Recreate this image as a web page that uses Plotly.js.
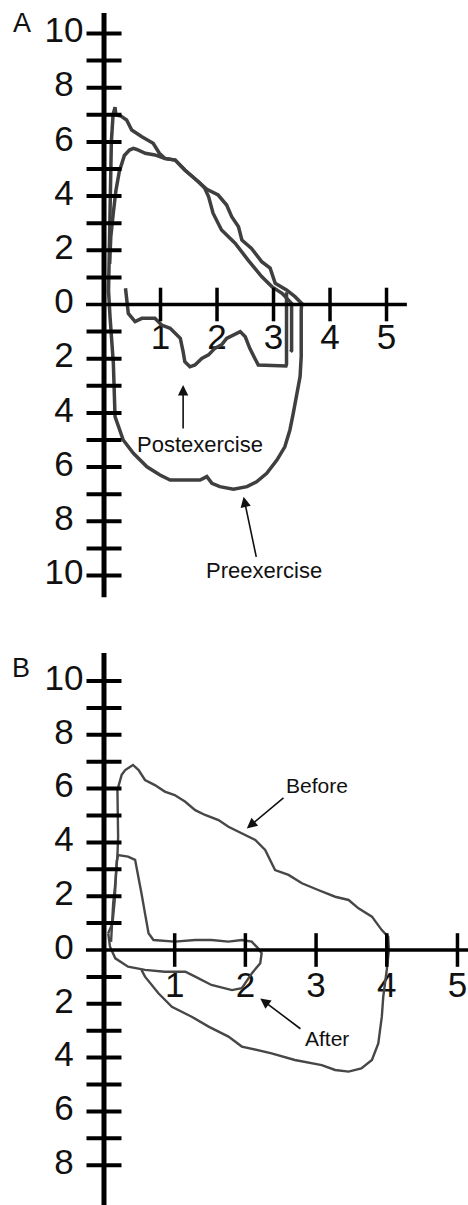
<!DOCTYPE html>
<html>
<head>
<meta charset="utf-8">
<script src="https://cdn.plot.ly/plotly-3.0.1.min.js"></script>
<style>html,body{margin:0;padding:0;background:#fff;}#chart{width:468px;height:1205px;}</style>
</head>
<body>
<div id="chart"></div>
<script>
// ---------- Panel A : Preexercise loop (volume L, flow L/s) ----------
var preA_x = [0.08, 0.09, 0.11, 0.13, 0.16, 0.195, 0.21, 0.30, 0.40, 0.49, 0.67, 0.87, 0.98, 1.08, 1.26, 1.43, 1.67, 1.82, 2.02, 2.17, 2.26, 2.38, 2.44, 2.61, 2.79, 2.94, 3.03, 3.23, 3.38, 3.50, 3.49, 3.49, 3.47, 3.41, 3.35, 3.29, 3.20, 3.06, 2.88, 2.70, 2.53, 2.29, 2.05, 1.91, 1.82, 1.70, 1.17, 0.99, 0.76, 0.52, 0.34, 0.195, 0.165, 0.106, 0.08];
var preA_y = [0.5, 2.0, 4.0, 6.0, 7.0, 7.28, 7.0, 6.95, 6.81, 6.44, 6.19, 5.95, 5.58, 5.39, 5.33, 4.96, 4.53, 4.25, 4.04, 3.67, 3.24, 2.87, 2.38, 2.07, 1.58, 1.34, 0.78, 0.54, 0.29, 0.04, -0.2, -1.93, -2.66, -3.40, -4.01, -4.63, -5.25, -5.74, -6.23, -6.54, -6.72, -6.82, -6.72, -6.60, -6.35, -6.48, -6.48, -6.29, -5.99, -5.49, -5.0, -4.14, -2.16, -0.45, 0.5];
// ---------- Panel A : Postexercise expiratory ----------
var postA_x = [0.10, 0.12, 0.16, 0.21, 0.27, 0.36, 0.45, 0.52, 0.58, 0.73, 0.90, 1.08, 1.26, 1.43, 1.67, 1.78, 1.85, 1.93, 2.08, 2.32, 2.55, 2.79, 2.97, 3.15, 3.32, 3.32, 3.30];
var postA_y = [1.5, 2.5, 3.3, 4.2, 4.9, 5.5, 5.7, 5.76, 5.72, 5.58, 5.52, 5.39, 5.33, 4.96, 4.53, 4.3, 3.98, 3.37, 2.75, 2.26, 1.64, 1.03, 0.66, 0.41, 0.04, -1.7, -1.75];
// ---------- Panel A : Postexercise inspiratory ----------
var postInA_x = [0.38, 0.40, 0.43, 0.55, 0.67, 0.78, 0.90, 1.02, 1.17, 1.26, 1.35, 1.40, 1.43, 1.52, 1.61, 1.73, 1.85, 1.96, 2.08, 2.17, 2.29, 2.41, 2.50, 2.58, 2.67, 2.73, 3.22, 3.23, 3.23];
var postInA_y = [0.6, 0.10, -0.33, -0.63, -0.51, -0.51, -0.51, -0.76, -0.88, -1.06, -1.25, -1.74, -2.11, -2.30, -2.23, -1.99, -1.86, -1.62, -1.49, -1.25, -1.12, -1.0, -1.19, -1.62, -1.99, -2.23, -2.27, -2.2, 0.45];

// ---------- Panel B : Before loop ----------
var beforeB_x = [0.10, 0.13, 0.155, 0.19, 0.20, 0.19, 0.25, 0.30, 0.41, 0.49, 0.58, 0.72, 0.86, 1.00, 1.15, 1.29, 1.43, 1.62, 1.76, 1.95, 2.14, 2.28, 2.35, 2.42, 2.61, 2.80, 3.03, 3.27, 3.46, 3.60, 3.79, 3.93, 4.02, 4.03, 4.00, 3.95, 3.93, 3.88, 3.79, 3.64, 3.46, 3.27, 3.08, 2.70, 2.37, 1.95, 1.76, 1.48, 1.24, 0.96, 0.77, 0.58, 0.53];
var beforeB_y = [0.3, 1.73, 2.35, 3.5, 4.2, 5.95, 6.51, 6.69, 6.88, 6.69, 6.32, 6.13, 5.89, 5.76, 5.51, 5.20, 5.02, 4.83, 4.58, 4.34, 4.09, 3.72, 3.35, 2.97, 2.79, 2.48, 2.23, 1.98, 1.86, 1.55, 1.24, 0.74, 0.49, 0.0, -0.74, -1.74, -2.48, -3.47, -4.09, -4.40, -4.52, -4.46, -4.28, -4.09, -3.84, -3.59, -3.22, -2.85, -2.48, -2.11, -1.61, -0.99, -0.74];
// ---------- Panel B : After loop ----------
var afterB_x = [0.06, 0.12, 0.15, 0.17, 0.18, 0.20, 0.34, 0.44, 0.49, 0.53, 0.58, 0.63, 0.70, 1.00, 1.29, 1.52, 1.76, 1.95, 2.09, 2.18, 2.23, 2.21, 2.09, 1.95, 1.81, 1.52, 1.29, 1.15, 0.86, 0.58, 0.34, 0.16, 0.085, 0.06];
var afterB_y = [0.62, 1.0, 1.8, 2.6, 3.3, 3.53, 3.47, 3.35, 2.73, 2.11, 1.36, 0.62, 0.37, 0.31, 0.37, 0.37, 0.31, 0.37, 0.31, 0.06, -0.12, -0.49, -0.87, -1.42, -1.49, -1.30, -0.99, -0.81, -0.81, -0.74, -0.62, -0.31, 0.12, 0.62];

// ---------- Tick values / labels ----------
var yTickValsA = [10, 8, 6, 4, 2, 0, -2, -4, -6, -8, -10];
var yTickTextA = ['10', '8', '6', '4', '2', '0', '2', '4', '6', '8', '10'];
var yMinorA = [10, 9, 8, 7, 6, 5, 4, 3, 2, 1, -1, -2, -3, -4, -5, -6, -7, -8, -9, -10];
var yTickValsB = [10, 8, 6, 4, 2, 0, -2, -4, -6, -8];
var yTickTextB = ['10', '8', '6', '4', '2', '0', '2', '4', '6', '8'];
var yMinorB = [10, 9, 8, 7, 6, 5, 4, 3, 2, 1, -1, -2, -3, -4, -5, -6, -7, -8];
var xTickVals = [1, 2, 3, 4, 5];
var xTickText = ['1', '2', '3', '4', '5'];

var FONT = 'Liberation Sans, Arial, sans-serif';
var curveA = '#3f3f3f', curveB = '#474747';

function rep(v, n) { var a = []; for (var i = 0; i < n; i++) a.push(v); return a; }

function panelTraces(xa, ya, o) {
  var t = [];
  // tick labels
  t.push({type: 'scatter', mode: 'text', x: rep(o.yLabX, o.yVals.length), y: o.yVals, text: o.yText,
    textposition: 'middle center', textfont: {family: FONT, size: 35, color: '#111'},
    xaxis: xa, yaxis: ya, hoverinfo: 'skip', showlegend: false, cliponaxis: false});
  t.push({type: 'scatter', mode: 'text', x: xTickVals, y: rep(o.xLabY, xTickVals.length), text: xTickText,
    textposition: 'middle center', textfont: {family: FONT, size: 35, color: '#111'},
    xaxis: xa, yaxis: ya, hoverinfo: 'skip', showlegend: false, cliponaxis: false});
  // curves
  o.curves.forEach(function (c) {
    t.push({type: 'scatter', mode: 'lines', x: c[0], y: c[1], line: {color: o.color, width: o.lw, shape: 'linear'},
      xaxis: xa, yaxis: ya, hoverinfo: 'skip', showlegend: false, cliponaxis: false});
  });
  // axis lines
  t.push({type: 'scatter', mode: 'lines', x: o.xLine, y: [0, 0], line: {color: '#000', width: 3.5},
    xaxis: xa, yaxis: ya, hoverinfo: 'skip', showlegend: false, cliponaxis: false});
  t.push({type: 'scatter', mode: 'lines', x: [0, 0], y: o.yLine, line: {color: '#000', width: 5},
    xaxis: xa, yaxis: ya, hoverinfo: 'skip', showlegend: false, cliponaxis: false});
  // tick marks
  t.push({type: 'scatter', mode: 'markers', x: rep(0, o.yMinor.length), y: o.yMinor,
    marker: {symbol: 'line-ew', size: 25, line: {width: 4, color: '#000'}},
    xaxis: xa, yaxis: ya, hoverinfo: 'skip', showlegend: false, cliponaxis: false});
  t.push({type: 'scatter', mode: 'markers', x: xTickVals, y: rep(0, xTickVals.length),
    marker: {symbol: 'line-ns', size: 24, line: {width: 3.5, color: '#000'}},
    xaxis: xa, yaxis: ya, hoverinfo: 'skip', showlegend: false, cliponaxis: false});
  return t;
}

var data = [].concat(
  panelTraces('x', 'y', {
    yLabX: -0.708, xLabY: -1.31, yVals: yTickValsA, yText: yTickTextA, yMinor: yMinorA,
    xLine: [-0.319, 5.36], yLine: [-10.8, 10.76], color: curveA, lw: 3.5,
    curves: [[preA_x, preA_y], [postA_x, postA_y], [postInA_x, postInA_y]]
  }),
  panelTraces('x2', 'y2', {
    yLabX: -0.566, xLabY: -1.42, yVals: yTickValsB, yText: yTickTextB, yMinor: yMinorB,
    xLine: [-0.255, 5.3], yLine: [-9.7, 11.04], color: curveB, lw: 2.4,
    curves: [[beforeB_x, beforeB_y], [afterB_x, afterB_y]]
  })
);

function txt(xr, yr, x, y, s, size) {
  return {xref: xr, yref: yr, x: x, y: y, text: s, showarrow: false, xanchor: 'center', yanchor: 'middle',
    font: {family: FONT, size: size, color: '#111'}};
}
function arrow(xr, yr, x, y, ax, ay) {
  return {xref: xr, yref: yr, axref: xr, ayref: yr, x: x, y: y, ax: ax, ay: ay, text: '', showarrow: true,
    arrowhead: 2, arrowsize: 1.3, arrowwidth: 1.6, arrowcolor: '#111', standoff: 0, startstandoff: 0};
}

var annotations = [
  {xref: 'paper', yref: 'paper', x: 21.7 / 468, y: 1 - 23.3 / 1205, text: 'A', showarrow: false,
    xanchor: 'center', yanchor: 'middle', font: {family: FONT, size: 27, color: '#111'}},
  {xref: 'paper', yref: 'paper', x: 20.8 / 468, y: 1 - 668.3 / 1205, text: 'B', showarrow: false,
    xanchor: 'center', yanchor: 'middle', font: {family: FONT, size: 27, color: '#111'}},
  txt('x', 'y', 1.70, -5.15, 'Postexercise', 22),
  arrow('x', 'y', 1.40, -2.97, 1.40, -4.63),
  txt('x', 'y', 2.83, -9.80, 'Preexercise', 22),
  arrow('x', 'y', 2.47, -7.09, 2.70, -9.37),
  txt('x2', 'y2', 3.02, 6.11, 'Before', 21),
  arrow('x2', 'y2', 2.02, 4.52, 2.56, 5.70),
  txt('x2', 'y2', 3.15, -3.28, 'After', 21),
  arrow('x2', 'y2', 2.21, -1.80, 2.80, -2.97)
];

var hidden = {visible: false, fixedrange: true, showgrid: false, zeroline: false};
var layout = {
  width: 468, height: 1205,
  margin: {l: 0, r: 0, t: 0, b: 0, pad: 0},
  paper_bgcolor: '#fff', plot_bgcolor: '#fff',
  showlegend: false,
  xaxis: Object.assign({domain: [0, 1], range: [-1.841, 6.442], anchor: 'y'}, hidden),
  yaxis: Object.assign({domain: [1 - 610 / 1205, 1], range: [-11.273, 11.236], anchor: 'x'}, hidden),
  xaxis2: Object.assign({domain: [0, 1], range: [-1.471, 5.149], anchor: 'y2'}, hidden),
  yaxis2: Object.assign({domain: [0, 585 / 1205], range: [-9.480, 12.268], anchor: 'x2'}, hidden),
  annotations: annotations
};

Plotly.newPlot('chart', data, layout, {staticPlot: true, displayModeBar: false});
</script>
</body>
</html>
